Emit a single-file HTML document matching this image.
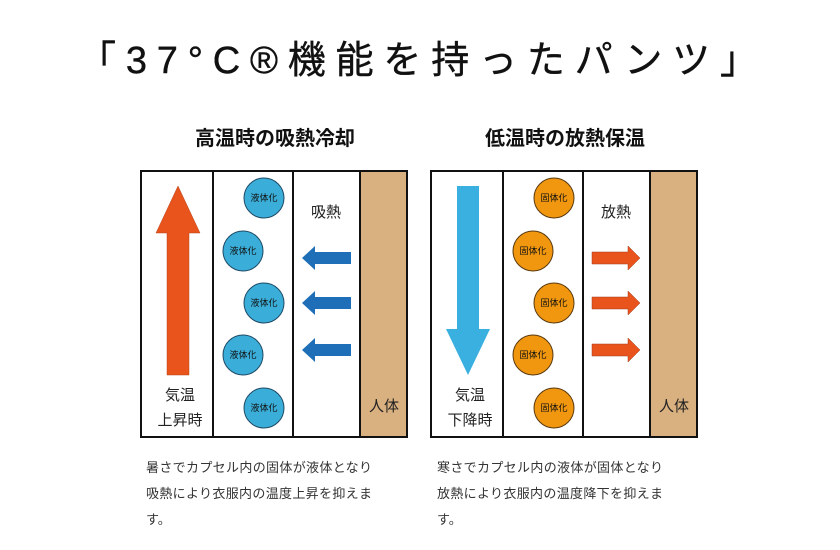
<!DOCTYPE html>
<html><head><meta charset="utf-8"><style>
body{margin:0;background:#fff;}
svg{display:block;font-family:"Liberation Sans","Noto Sans CJK JP",sans-serif;}
</style></head><body>
<svg width="840" height="550" viewBox="0 0 840 550" xmlns="http://www.w3.org/2000/svg">
<text x="78" y="73" font-size="38" fill="#111" stroke="#111" stroke-width="0.4" textLength="680" lengthAdjust="spacing">「37°C®機能を持ったパンツ」</text>
<text x="275" y="145" font-size="20" font-weight="bold" fill="#111" text-anchor="middle">高温時の吸熱冷却</text>
<text x="565" y="145" font-size="20" font-weight="bold" fill="#111" text-anchor="middle">低温時の放熱保温</text>

<!-- left box -->
<g>
<rect x="361" y="171" width="46" height="266" fill="#d9b07f"/>
<rect x="141" y="171" width="266" height="266" fill="none" stroke="#111" stroke-width="2"/>
<line x1="213" y1="171" x2="213" y2="437" stroke="#111" stroke-width="2"/>
<line x1="293" y1="171" x2="293" y2="437" stroke="#111" stroke-width="2"/>
<line x1="360" y1="171" x2="360" y2="437" stroke="#111" stroke-width="2"/>
<polygon points="178,186 200,233 189,233 189,375 167,375 167,233 156,233" fill="#e8541c" stroke="#b8441a" stroke-width="0.5"/>
<g fill="#3aaed8" stroke="#1f4a66" stroke-width="1">
<circle cx="264" cy="198" r="20"/><circle cx="243" cy="251" r="20"/><circle cx="264" cy="303" r="20"/><circle cx="243" cy="355" r="20"/><circle cx="264" cy="408" r="20"/>
</g>
<g font-size="9" fill="#111" text-anchor="middle">
<text x="264" y="201">液体化</text><text x="243" y="254">液体化</text><text x="264" y="306">液体化</text><text x="243" y="358">液体化</text><text x="264" y="411">液体化</text>
</g>
<g fill="#1e6fb8">
<polygon points="302,258 315,246 315,252 351,252 351,264 315,264 315,270"/>
<polygon points="302,303 315,291 315,297 351,297 351,309 315,309 315,315"/>
<polygon points="302,350 315,338 315,344 351,344 351,356 315,356 315,362"/>
</g>
<text x="326" y="217" font-size="15" fill="#222" text-anchor="middle">吸熱</text>
<text x="180" y="400" font-size="15" fill="#222" text-anchor="middle">気温</text>
<text x="180" y="425" font-size="15" fill="#222" text-anchor="middle">上昇時</text>
<text x="384" y="411" font-size="15" fill="#222" text-anchor="middle">人体</text>
</g>

<!-- right box -->
<g transform="translate(290,0)">
<rect x="361" y="171" width="46" height="266" fill="#d9b07f"/>
<rect x="141" y="171" width="266" height="266" fill="none" stroke="#111" stroke-width="2"/>
<line x1="213" y1="171" x2="213" y2="437" stroke="#111" stroke-width="2"/>
<line x1="293" y1="171" x2="293" y2="437" stroke="#111" stroke-width="2"/>
<line x1="360" y1="171" x2="360" y2="437" stroke="#111" stroke-width="2"/>
<polygon points="167,186 189,186 189,329 200,329 178,375 156,329 167,329" fill="#3ab0e0"/>
<g fill="#f0960f" stroke="#5a3a10" stroke-width="1">
<circle cx="264" cy="198" r="20"/><circle cx="243" cy="251" r="20"/><circle cx="264" cy="303" r="20"/><circle cx="243" cy="355" r="20"/><circle cx="264" cy="408" r="20"/>
</g>
<g font-size="9" fill="#111" text-anchor="middle">
<text x="264" y="201">固体化</text><text x="243" y="254">固体化</text><text x="264" y="306">固体化</text><text x="243" y="358">固体化</text><text x="264" y="411">固体化</text>
</g>
<g fill="#e8541c" stroke="#a03a18" stroke-width="0.5">
<polygon points="302,252 338,252 338,246 350,258 338,270 338,264 302,264"/>
<polygon points="302,297 338,297 338,291 350,303 338,315 338,309 302,309"/>
<polygon points="302,344 338,344 338,338 350,350 338,362 338,356 302,356"/>
</g>
<text x="326" y="217" font-size="15" fill="#222" text-anchor="middle">放熱</text>
<text x="180" y="400" font-size="15" fill="#222" text-anchor="middle">気温</text>
<text x="180" y="425" font-size="15" fill="#222" text-anchor="middle">下降時</text>
<text x="384" y="411" font-size="15" fill="#222" text-anchor="middle">人体</text>
</g>

<g font-size="13" fill="#333">
<text x="146" y="472" textLength="226">暑さでカプセル内の固体が液体となり</text>
<text x="146" y="498" textLength="226">吸熱により衣服内の温度上昇を抑えま</text>
<text x="146" y="524">す。</text>
<text x="437" y="472" textLength="226">寒さでカプセル内の液体が固体となり</text>
<text x="437" y="498" textLength="226">放熱により衣服内の温度降下を抑えま</text>
<text x="437" y="524">す。</text>
</g>
</svg>
</body></html>
